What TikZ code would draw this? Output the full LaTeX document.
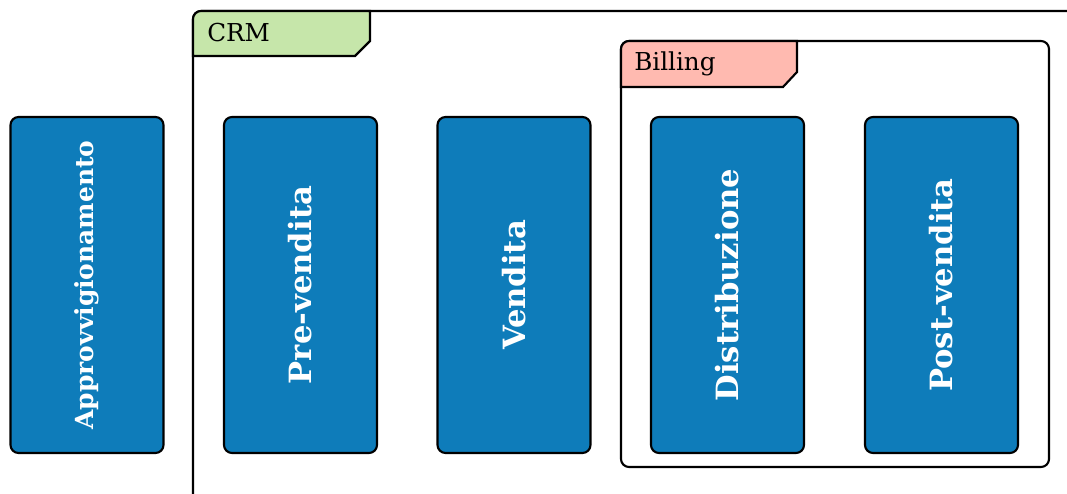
\documentclass[tikz,border=0pt]{standalone}
\usepackage{fontspec}
\setmainfont{DejaVu Serif}

\definecolor{procblue}{RGB}{14,124,186}
\definecolor{crmgreen}{RGB}{198,230,170}
\definecolor{billpink}{RGB}{255,186,176}

\tikzset{
  process/.style={draw=black, line width=1.6pt, fill=procblue, rounded corners=6pt,
    rotate=90, minimum width=252pt, minimum height=114.75pt, inner sep=0pt,
    text=white, font=\bfseries\fontsize{23}{26}\selectfont},
  frame/.style={draw=black, line width=1.6pt, rounded corners=6pt},
  tablabel/.style={anchor=west, inner sep=0pt, font=\fontsize{18.5}{20}\selectfont}
}

\begin{document}
\begin{tikzpicture}[x=0.75pt, y=-0.75pt]
  \useasboundingbox (0,0) rectangle (1067,493);

  % CRM frame, runs off the page
  \draw [frame] (193,520) -- (193,11) -- (1100,11);
  \filldraw [frame, fill=crmgreen]
    (193,56) -- (193,11) [rounded corners=0pt] -- (370,11) -- (370,41) -- (355,56) -- cycle;
  \node [tablabel] (crm) at (207,33) {CRM};

  % Billing frame
  \draw [frame] (621,41) rectangle (1049,467);
  \filldraw [frame, fill=billpink]
    (621,87) -- (621,41) [rounded corners=0pt] -- (797,41) -- (797,72) -- (783,87) -- cycle;
  \node [tablabel] (billing) at (634,64) {Billing};

  % process steps
  \node [process, font=\bfseries\fontsize{18.7}{22}\selectfont] (approv) at (87,285) {Approvvigionamento};
  \node [process] (prevend) at (300.5,285) {Pre-vendita};
  \node [process] (vend) at (514,285) {Vendita};
  \node [process] (distrib) at (727.5,285) {Distribuzione};
  \node [process] (postvend) at (941.5,285) {Post-vendita};
\end{tikzpicture}
\end{document}
